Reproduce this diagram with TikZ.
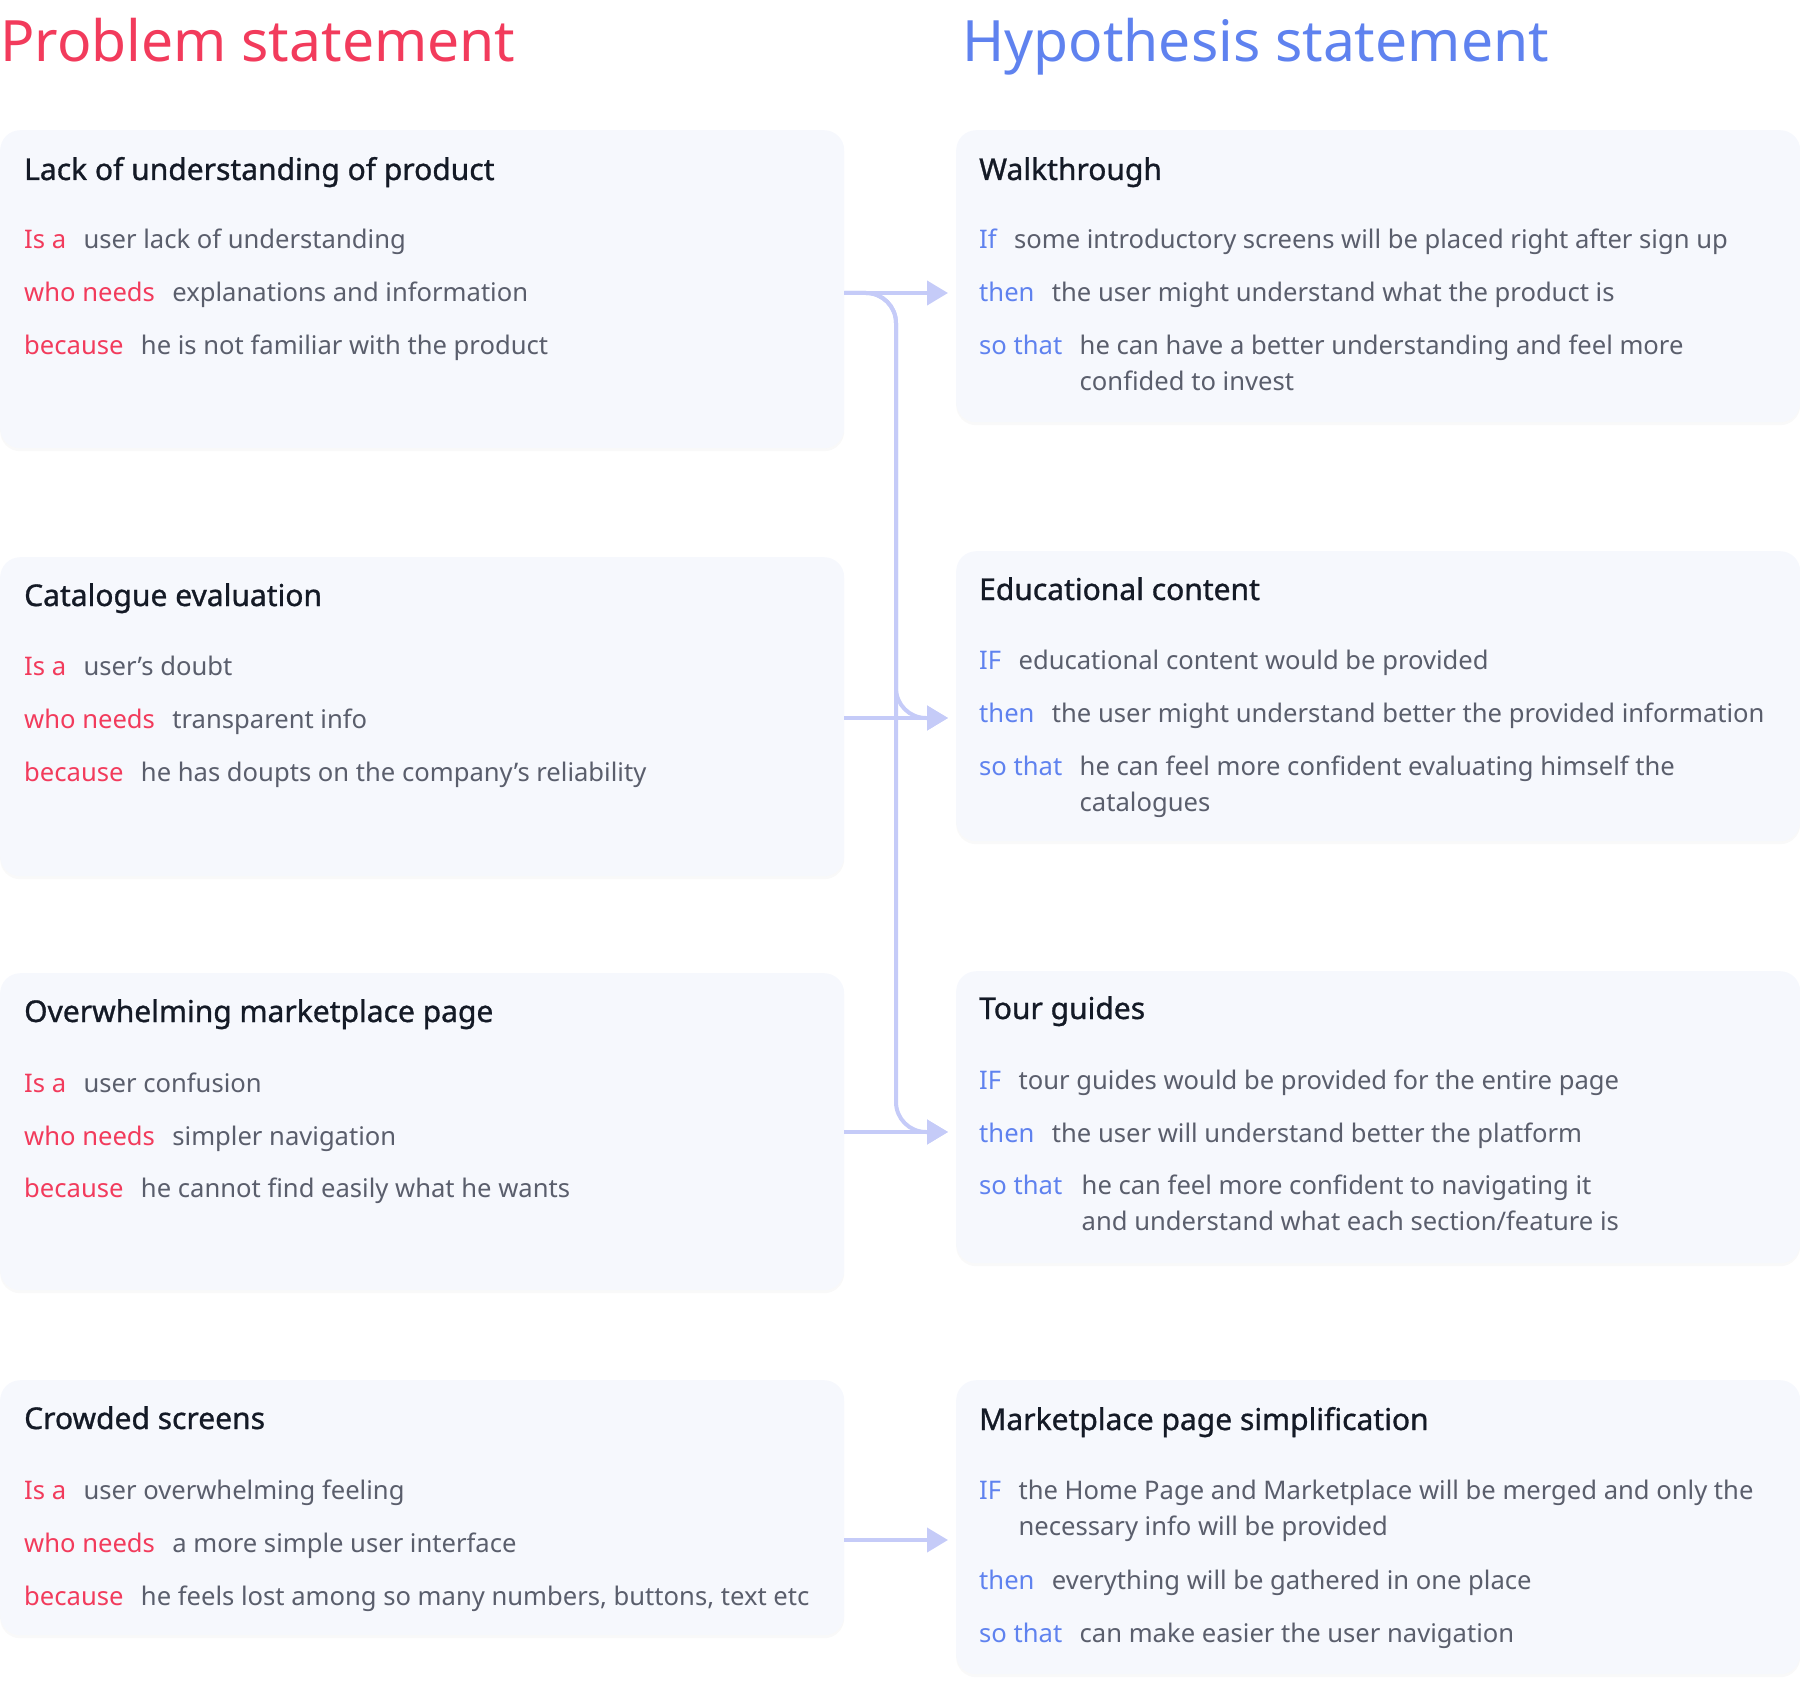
\documentclass[tikz,border=0pt]{standalone}
\usepackage{fontspec}
\setmainfont{Noto Sans}
\newfontfamily\medfam{Noto Sans}[FakeBold=1.0]
\usetikzlibrary{arrows.meta,shadows}
\definecolor{pred}{HTML}{F23B5C}
\definecolor{pblue}{HTML}{5F82EF}
\definecolor{bodyc}{HTML}{5A5E6C}
\definecolor{titlec}{HTML}{141A26}
\definecolor{boxfill}{HTML}{F6F8FD}
\definecolor{connc}{HTML}{C5CBF8}
\newcommand{\bodyfnt}{\fontsize{25.6}{30}\selectfont}
\newcommand{\ttlfnt}{\medfam\fontsize{30}{36}\selectfont}
\newcommand{\headfnt}{\fontsize{57}{66}\selectfont}
\tikzset{
  panel/.style={fill=boxfill, draw=none, rounded corners=20pt, anchor=north west, inner sep=0pt, minimum width=844pt,
    drop shadow={opacity=0.05, shadow xshift=0pt, shadow yshift=-3pt}},
  conn/.style={draw=connc, line width=4pt, rounded corners=30pt, -{Triangle[width=24pt,length=21pt]}},
  head/.style={anchor=base west, inner sep=0pt, font=\headfnt},
  ttl/.style={anchor=base west, inner sep=0pt, font=\ttlfnt, text=titlec},
  rlab/.style={anchor=base west, inner sep=0pt, font=\bodyfnt, text=pred},
  blab/.style={anchor=base west, inner sep=0pt, font=\bodyfnt, text=pblue},
  val/.style={anchor=base west, inner sep=0pt, font=\bodyfnt, text=bodyc},
}
\begin{document}
\begin{tikzpicture}[x=1pt,y=-1pt]
\useasboundingbox (0,0) rectangle (1800,1688);
% headings
\node[head, text=pred] (hp) at (0,62) {Problem statement};
\node[head, text=pblue] (hh) at (962,62) {Hypothesis statement};
% left panels
\node[panel, minimum height=318pt] (lb1) at (0,130) {};
\node[panel, minimum height=319pt] (lb2) at (0,557) {};
\node[panel, minimum height=317pt] (lb3) at (0,973) {};
\node[panel, minimum height=255pt] (lb4) at (0,1380) {};
% right panels
\node[panel, minimum height=292pt] (rb1) at (956,130) {};
\node[panel, minimum height=290pt] (rb2) at (956,551) {};
\node[panel, minimum height=292pt] (rb3) at (956,971) {};
\node[panel, minimum height=294pt] (rb4) at (956,1380) {};
% left panel 1
\node[ttl] (lt1) at (24,180) {Lack of understanding of product};
\node[rlab] (l1a) at (24,249) {Is a};
\node[val] (l1av) at ([xshift=17pt]l1a.base east) {user lack of understanding};
\node[rlab] (l1b) at (24,302) {who needs};
\node[val] (l1bv) at ([xshift=17pt]l1b.base east) {explanations and information};
\node[rlab] (l1c) at (24,355) {because};
\node[val] (l1cv) at ([xshift=17pt]l1c.base east) {he is not familiar with the product};
% left panel 2
\node[ttl] (lt2) at (24,606) {Catalogue evaluation};
\node[rlab] (l2a) at (24,675) {Is a};
\node[val] (l2av) at ([xshift=17pt]l2a.base east) {user’s doubt};
\node[rlab] (l2b) at (24,728) {who needs};
\node[val] (l2bv) at ([xshift=17pt]l2b.base east) {transparent info};
\node[rlab] (l2c) at (24,781) {because};
\node[val] (l2cv) at ([xshift=17pt]l2c.base east) {he has doupts on the company’s reliability};
% left panel 3
\node[ttl] (lt3) at (24,1022) {Overwhelming marketplace page};
\node[rlab] (l3a) at (24,1092) {Is a};
\node[val] (l3av) at ([xshift=17pt]l3a.base east) {user confusion};
\node[rlab] (l3b) at (24,1145) {who needs};
\node[val] (l3bv) at ([xshift=17pt]l3b.base east) {simpler navigation};
\node[rlab] (l3c) at (24,1197) {because};
\node[val] (l3cv) at ([xshift=17pt]l3c.base east) {he cannot find easily what he wants};
% left panel 4
\node[ttl] (lt4) at (24,1429) {Crowded screens};
\node[rlab] (l4a) at (24,1499) {Is a};
\node[val] (l4av) at ([xshift=17pt]l4a.base east) {user overwhelming feeling};
\node[rlab] (l4b) at (24,1552) {who needs};
\node[val] (l4bv) at ([xshift=17pt]l4b.base east) {a more simple user interface};
\node[rlab] (l4c) at (24,1605) {because};
\node[val] (l4cv) at ([xshift=17pt]l4c.base east) {he feels lost among so many numbers, buttons, text etc};
% right panel 1
\node[ttl] (rt1) at (979,180) {Walkthrough};
\node[blab] (r1a) at (979,249) {If};
\node[val] (r1av) at ([xshift=17pt]r1a.base east) {some introductory screens will be placed right after sign up};
\node[blab] (r1b) at (979,302) {then};
\node[val] (r1bv) at ([xshift=17pt]r1b.base east) {the user might understand what the product is};
\node[blab] (r1c) at (979,355) {so that};
\node[val] (r1cv) at ([xshift=17pt]r1c.base east) {he can have a better understanding and feel more};
\node[val] (r1cw) at ([yshift=-36pt]r1cv.base west) {confided to invest};
% right panel 2
\node[ttl] (rt2) at (979,600) {Educational content};
\node[blab] (r2a) at (979,669) {IF};
\node[val] (r2av) at ([xshift=17pt]r2a.base east) {educational content would be provided};
\node[blab] (r2b) at (979,722) {then};
\node[val] (r2bv) at ([xshift=17pt]r2b.base east) {the user might understand better the provided information};
\node[blab] (r2c) at (979,775) {so that};
\node[val] (r2cv) at ([xshift=17pt]r2c.base east) {he can feel more confident evaluating himself the};
\node[val] (r2cw) at ([yshift=-36pt]r2cv.base west) {catalogues};
% right panel 3
\node[ttl] (rt3) at (979,1019) {Tour guides};
\node[blab] (r3a) at (979,1089) {IF};
\node[val] (r3av) at ([xshift=17pt]r3a.base east) {tour guides would be provided for the entire page};
\node[blab] (r3b) at (979,1142) {then};
\node[val] (r3bv) at ([xshift=17pt]r3b.base east) {the user will understand better the platform};
\node[blab] (r3c) at (979,1194) {so that};
\node[val] (r3cv) at ([xshift=19pt]r3c.base east) {he can feel more confident to navigating it};
\node[val] (r3cw) at ([yshift=-36pt]r3cv.base west) {and understand what each section/feature is};
% right panel 4
\node[ttl] (rt4) at (979,1430) {Marketplace page simplification};
\node[blab] (r4a) at (979,1499) {IF};
\node[val] (r4av) at ([xshift=17pt]r4a.base east) {the Home Page and Marketplace will be merged and only the};
\node[val] (r4aw) at ([yshift=-36pt]r4av.base west) {necessary info will be provided};
\node[blab] (r4b) at (979,1589) {then};
\node[val] (r4bv) at ([xshift=17pt]r4b.base east) {everything will be gathered in one place};
\node[blab] (r4c) at (979,1642) {so that};
\node[val] (r4cv) at ([xshift=17pt]r4c.base east) {can make easier the user navigation};
% connector levels
\coordinate (y1) at (0,293);
\coordinate (y2) at (0,718);
\coordinate (y3) at (0,1132);
\coordinate (y4) at (0,1540);
\coordinate (trunk) at (896,0);
% connectors
\draw[conn, shorten >=8pt] (lb1.east |- y1) -| (trunk |- y3) -- (rb3.west |- y3);
\draw[conn, shorten >=8pt] (lb1.east |- y1) -| (trunk |- y2) -- (rb2.west |- y2);
\draw[conn, shorten >=8pt] (lb1.east |- y1) -- (rb1.west |- y1);
\draw[conn, shorten >=8pt] (lb2.east |- y2) -- (rb2.west |- y2);
\draw[conn, shorten >=8pt] (lb3.east |- y3) -- (rb3.west |- y3);
\draw[conn, shorten >=8pt] (lb4.east |- y4) -- (rb4.west |- y4);
\end{tikzpicture}
\end{document}
